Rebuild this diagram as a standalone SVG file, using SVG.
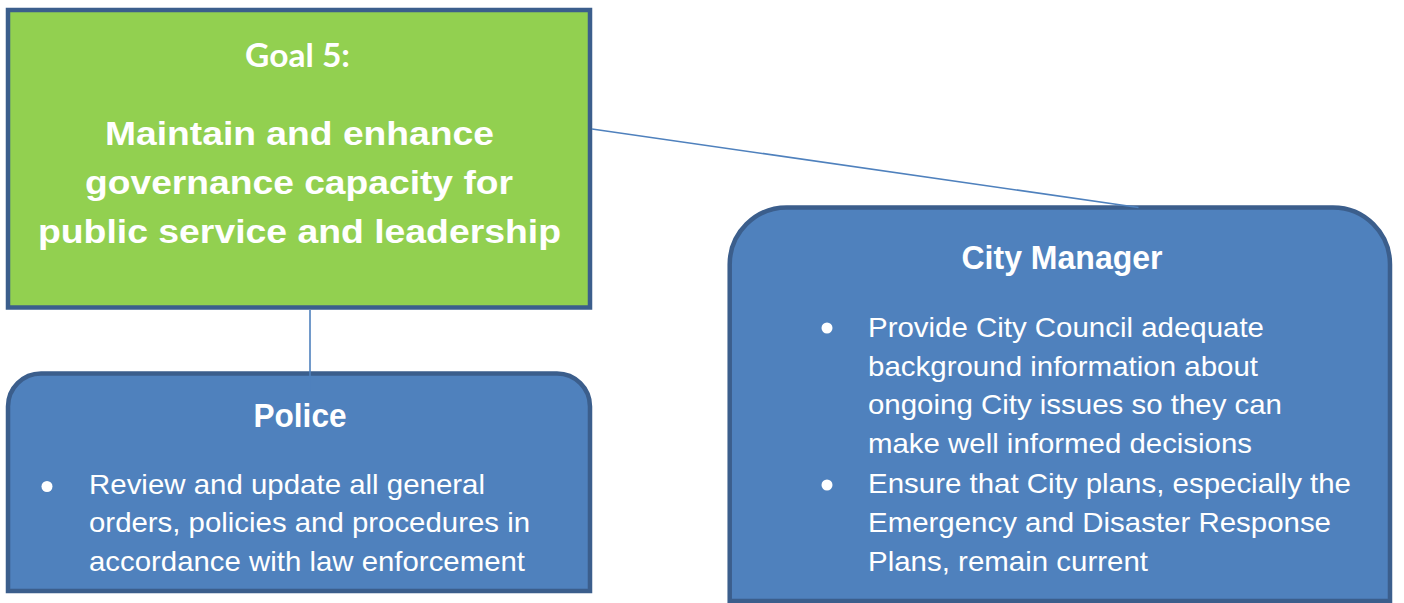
<svg xmlns="http://www.w3.org/2000/svg" width="1404" height="603" viewBox="0 0 1404 603">
<style>
.box{stroke:#3B5E8C;stroke-width:4.5}
.goal{fill:#92D050}
.dept{fill:#4F81BD}
.conn{stroke:#4F81BD;stroke-width:1.6;fill:none}
text{fill:#FFFFFF;font-family:"Liberation Sans",Arial,sans-serif}
.t{font-weight:bold;font-size:34px}
.h{font-weight:bold;font-size:32.5px;text-anchor:middle}
.g{font-family:Lato,"Liberation Sans",sans-serif;font-weight:bold;font-size:32px}
.b{font-size:28px}
.dot{fill:#FFFFFF}
</style>
<rect width="1404" height="603" fill="#FFFFFF"/>
<g id="goal5">
<rect class="box goal" x="8" y="10" width="582" height="297.5"/>
<text class="g" x="245" y="66.7" textLength="105" lengthAdjust="spacingAndGlyphs">Goal 5:</text>
<text class="t" x="105" y="145" textLength="389" lengthAdjust="spacingAndGlyphs">Maintain and enhance</text>
<text class="t" x="85" y="193.5" textLength="428" lengthAdjust="spacingAndGlyphs">governance capacity for</text>
<text class="t" x="38" y="243" textLength="523" lengthAdjust="spacingAndGlyphs">public service and leadership</text>
</g>
<g id="police">
<path class="box dept" d="M8,591 V406.5 A33,33 0 0 1 41,373.5 H557 A33,33 0 0 1 590,406.5 V591 Z"/>
<text class="h" x="300" y="426.7" textLength="93" lengthAdjust="spacingAndGlyphs">Police</text>
<circle class="dot" cx="47" cy="486.5" r="5.5"/>
<text class="b" x="89" y="494.3" textLength="396" lengthAdjust="spacingAndGlyphs">Review and update all general</text>
<text class="b" x="89" y="532" textLength="441" lengthAdjust="spacingAndGlyphs">orders, policies and procedures in</text>
<text class="b" x="89" y="570.7" textLength="436" lengthAdjust="spacingAndGlyphs">accordance with law enforcement</text>
</g>
<g id="city-manager">
<path class="box dept" d="M729.7,601 V264.5 A57,57 0 0 1 786.7,207.5 H1333 A57,57 0 0 1 1390,264.5 V601 Z"/>
<text class="h" x="1062" y="269" textLength="201" lengthAdjust="spacingAndGlyphs">City Manager</text>
<circle class="dot" cx="827" cy="328" r="5.5"/>
<circle class="dot" cx="827" cy="485" r="5.5"/>
<text class="b" x="868" y="336.7" textLength="396" lengthAdjust="spacingAndGlyphs">Provide City Council adequate</text>
<text class="b" x="868" y="375.5" textLength="390" lengthAdjust="spacingAndGlyphs">background information about</text>
<text class="b" x="868" y="414.3" textLength="414" lengthAdjust="spacingAndGlyphs">ongoing City issues so they can</text>
<text class="b" x="868" y="453.2" textLength="384" lengthAdjust="spacingAndGlyphs">make well informed decisions</text>
<text class="b" x="868" y="492.7" textLength="483" lengthAdjust="spacingAndGlyphs">Ensure that City plans, especially the</text>
<text class="b" x="868" y="531.7" textLength="463" lengthAdjust="spacingAndGlyphs">Emergency and Disaster Response</text>
<text class="b" x="868" y="570.7" textLength="280" lengthAdjust="spacingAndGlyphs">Plans, remain current</text>
</g>
<g id="connectors">
<line class="conn" x1="592" y1="129" x2="1138.5" y2="207.5"/>
<line class="conn" x1="310" y1="310" x2="310" y2="392"/>
</g>
</svg>
